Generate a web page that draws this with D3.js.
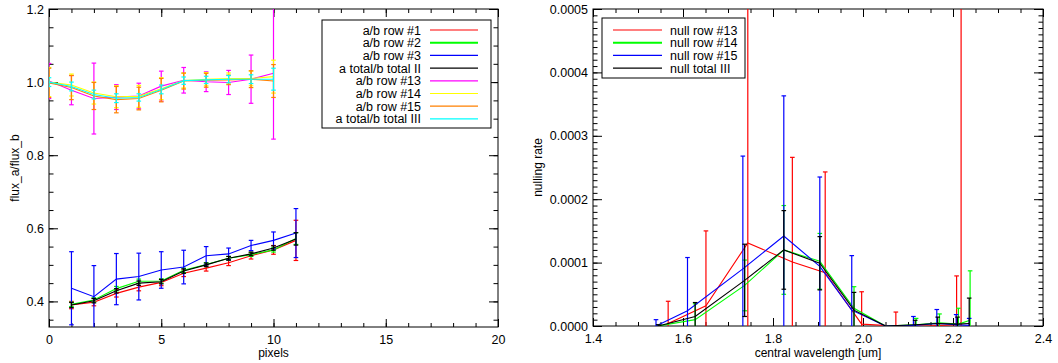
<!DOCTYPE html>
<html><head><meta charset="utf-8">
<script src="https://cdn.jsdelivr.net/npm/d3@7"></script>
<style>
body{margin:0;background:#fff}
svg{display:block}
text{font-family:"Liberation Sans",Arial,Helvetica,sans-serif;fill:#000}
</style>
</head><body>
<svg id="chart" width="1058" height="363"></svg>
<script>
// ---------------- LEFT PANEL DATA ----------------
const pixelsA = [1,2,3,4,5,6,7,8,9,10,11];        // rows 1,2,3 and total II
const pixelsB = [0,1,2,3,4,5,6,7,8,9,10];         // rows 13,14,15 and total III
const row1     = [0.390,0.398,0.422,0.439,0.452,0.477,0.491,0.506,0.525,0.541,0.567];
const row1Err  = [0.010,0.010,0.010,0.010,0.009,0.009,0.008,0.008,0.009,0.012,0.055];
const row2     = [0.392,0.404,0.435,0.455,0.456,0.485,0.501,0.518,0.528,0.541,0.572];
const row2Err  = [0.006,0.006,0.006,0.006,0.006,0.006,0.005,0.005,0.005,0.006,0.016];
const row3     = [0.436,0.413,0.461,0.468,0.486,0.494,0.525,0.530,0.553,0.567,0.587];
const row3Err  = [0.100,0.085,0.070,0.064,0.050,0.046,0.025,0.016,0.014,0.023,0.067];
const totII    = [0.390,0.402,0.429,0.450,0.454,0.483,0.500,0.518,0.530,0.546,0.571];
const totIIErr = [0.007,0.006,0.006,0.006,0.006,0.006,0.005,0.005,0.005,0.006,0.017];
const row13     = [1.003,0.978,0.955,0.959,0.962,0.989,1.005,1.001,0.999,1.008,1.024];
const row13Err  = [0.048,0.040,0.097,0.034,0.035,0.041,0.035,0.027,0.033,0.066,0.180];
const row14     = [1.000,0.992,0.970,0.960,0.961,0.982,1.004,1.008,1.010,1.010,1.015];
const row14Err  = [0.040,0.030,0.030,0.030,0.030,0.030,0.020,0.018,0.015,0.020,0.045];
const row15     = [0.998,0.985,0.962,0.952,0.955,0.978,1.003,1.005,1.006,1.008,1.003];
const row15Err  = [0.040,0.033,0.037,0.036,0.031,0.032,0.022,0.019,0.013,0.023,0.045];
const totIII    = [1.000,0.988,0.966,0.956,0.958,0.980,1.004,1.006,1.008,1.008,1.008];
const totIIIErr = [0.012,0.012,0.012,0.012,0.010,0.012,0.010,0.010,0.010,0.012,0.030];
const leftLabels = ["a/b row #1","a/b row #2","a/b row #3","a total/b total II",
                    "a/b row #13","a/b row #14","a/b row #15","a total/b total III"];
const leftXTicks = [0,5,10,15,20];
const leftYTicks = [0.4,0.6,0.8,1.0,1.2];

// ---------------- RIGHT PANEL DATA (units of 1e-4) ----------------
const NULL_UNIT = 1e-4;
const wl13      = [1.567,1.651,1.744,1.843,1.916,1.997,2.073,2.140,2.208,2.218];
const null13    = [0.04,0.32,1.31,1.01,0.84,0.03,0.00,0.00,0.02,0.05];
const null13Err = [0.35,1.18,6.00,1.65,1.59,0.51,0.22,0.00,0.77,6.00];
const wl14      = [1.545,1.627,1.737,1.824,1.904,1.980,2.050,2.118,2.170,2.212,2.238];
const null14    = [0.00,0.10,0.64,1.20,1.02,0.28,0.00,0.02,0.05,0.03,0.09];
const null14Err = [0.02,0.25,0.40,0.70,0.44,0.34,0.00,0.10,0.14,0.25,0.78];
const wl15      = [1.540,1.610,1.733,1.824,1.904,1.975,2.050,2.112,2.164,2.207,2.236];
const null15    = [0.00,0.24,0.90,1.42,0.94,0.25,0.00,0.01,0.04,0.02,0.01];
const null15Err = [0.10,0.84,1.78,2.21,1.41,0.86,0.00,0.14,0.22,0.16,0.11];
const wlTot      = [1.545,1.627,1.737,1.824,1.904,1.980,2.050,2.116,2.166,2.210,2.236];
const nullTot    = [0.00,0.15,0.72,1.20,0.99,0.25,0.00,0.02,0.04,0.03,0.04];
const nullTotErr = [0.02,0.22,0.57,0.62,0.42,0.28,0.00,0.07,0.10,0.11,0.40];
const rightLabels = ["null row #13","null row #14","null row #15","null total III"];
const rightXTicks = [1.4,1.6,1.8,2.0,2.2,2.4];
const rightYTicks = [0,0.0001,0.0002,0.0003,0.0004,0.0005];

// ---------------- STYLE ----------------
const leftColors  = ["#ff0000","#00ff00","#0000ff","#000000","#ff00ff","#ffff00","#ff8000","#00ffff"];
const rightColors = ["#ff0000","#00ff00","#0000ff","#000000"];

const svg = d3.select("#chart");
const LP = {x0:49, x1:498, y0:9, y1:327};
const RP = {x0:593, x1:1043, y0:9, y1:326};

const xL = d3.scaleLinear().domain([0,20]).range([LP.x0,LP.x1]);
const yL = d3.scaleLinear().domain([0.33,1.2]).range([LP.y1,LP.y0]);
const xR = d3.scaleLinear().domain([1.4,2.4]).range([RP.x0,RP.x1]);
const yR = d3.scaleLinear().domain([0,0.0005]).range([RP.y1,RP.y0]);

function range(a,b,s){const o=[];for(let v=a;v<=b+s*1e-6;v+=s)o.push(+v.toFixed(8));return o;}

function axes(P, xs, ys, xMaj, xMin, yMaj, yMin, xFmt, yFmt){
  const g = svg.append("g");
  const add = (ax, tr) => {
    const a = g.append("g").attr("transform",tr).call(ax);
    a.select(".domain").remove();
    a.selectAll("line").attr("stroke","#000").attr("stroke-width",1);
    a.selectAll("text").style("font-size","12.5px").attr("fill","#000");
    return a;
  };
  // bottom
  add(d3.axisBottom(xs).tickValues(xMaj).tickSize(-8).tickPadding(8).tickFormat(xFmt), `translate(0,${P.y1})`);
  add(d3.axisBottom(xs).tickValues(xMin).tickSize(-4).tickFormat(""), `translate(0,${P.y1})`);
  // top
  add(d3.axisTop(xs).tickValues(xMaj).tickSize(-8).tickFormat(""), `translate(0,${P.y0})`);
  add(d3.axisTop(xs).tickValues(xMin).tickSize(-4).tickFormat(""), `translate(0,${P.y0})`);
  // left
  add(d3.axisLeft(ys).tickValues(yMaj).tickSize(-9).tickPadding(5).tickFormat(yFmt), `translate(${P.x0},0)`);
  add(d3.axisLeft(ys).tickValues(yMin).tickSize(-4.5).tickFormat(""), `translate(${P.x0},0)`);
  // right
  add(d3.axisRight(ys).tickValues(yMaj).tickSize(-9).tickFormat(""), `translate(${P.x1},0)`);
  add(d3.axisRight(ys).tickValues(yMin).tickSize(-4.5).tickFormat(""), `translate(${P.x1},0)`);
  g.append("rect").attr("x",P.x0).attr("y",P.y0).attr("width",P.x1-P.x0).attr("height",P.y1-P.y0)
    .attr("fill","none").attr("stroke","#000").attr("stroke-width",1);
}

function clip(id,P){
  svg.append("clipPath").attr("id",id).append("rect")
    .attr("x",P.x0).attr("y",P.y0).attr("width",P.x1-P.x0).attr("height",P.y1-P.y0);
}
clip("clipL",LP); clip("clipR",RP);

function series(clipId, xs, ys, xv, yv, ev, color, unit){
  const d = xv.map((x,i)=>({x:x, y:yv[i]*unit, e:ev[i]*unit}));
  const g = svg.append("g").attr("clip-path",`url(#${clipId})`);
  g.append("path").datum(d)
    .attr("d", d3.line().x(p=>xs(p.x)).y(p=>ys(p.y)))
    .attr("fill","none").attr("stroke",color).attr("stroke-width",1.1);
  const eb = g.selectAll(null).data(d.filter(p=>p.e>0)).enter().append("g");
  eb.append("line").attr("x1",p=>xs(p.x)).attr("x2",p=>xs(p.x))
    .attr("y1",p=>ys(p.y-p.e)).attr("y2",p=>ys(p.y+p.e))
    .attr("stroke",color).attr("stroke-width",1.2);
  [-1,1].forEach(s=>{
    eb.append("line").attr("x1",p=>xs(p.x)-2.3).attr("x2",p=>xs(p.x)+2.3)
      .attr("y1",p=>ys(p.y+s*p.e)).attr("y2",p=>ys(p.y+s*p.e))
      .attr("stroke",color).attr("stroke-width",1.2);
  });
}

// ---------------- LEFT PANEL ----------------
axes(LP, xL, yL, leftXTicks, range(0,20,1), leftYTicks, range(0.35,1.2,0.05),
     d3.format("d"), d3.format(".1f"));
const leftSeries = [
  [pixelsA,row1,row1Err],[pixelsA,row2,row2Err],[pixelsA,row3,row3Err],[pixelsA,totII,totIIErr],
  [pixelsB,row13,row13Err],[pixelsB,row14,row14Err],[pixelsB,row15,row15Err],[pixelsB,totIII,totIIIErr]];
leftSeries.forEach((s,i)=>series("clipL", xL, yL, s[0], s[1], s[2], leftColors[i], 1));

svg.append("text").attr("x",(LP.x0+LP.x1)/2).attr("y",357).attr("text-anchor","middle")
  .style("font-size","12px").text("pixels");
svg.append("text").attr("transform",`translate(19,${(LP.y0+LP.y1)/2}) rotate(-90)`)
  .attr("text-anchor","middle").style("font-size","12px").text("flux_a/flux_b");

// left legend
const lg = svg.append("g");
lg.append("rect").attr("x",322).attr("y",20).attr("width",169).attr("height",108)
  .attr("fill","#fff").attr("stroke","#000");
leftLabels.forEach((t,i)=>{
  const y = 30 + i*12.7;
  lg.append("text").attr("x",421).attr("y",y+4.5).attr("text-anchor","end")
    .style("font-size","12.5px").text(t);
  lg.append("line").attr("x1",430).attr("x2",478).attr("y1",y).attr("y2",y)
    .attr("stroke",leftColors[i]).attr("stroke-width",i===1?2:1.2);
});

// ---------------- RIGHT PANEL ----------------
axes(RP, xR, yR, rightXTicks, range(1.4,2.4,0.05), rightYTicks, range(0,0.0005,0.00001),
     d3.format(".1f"), d3.format(".4f"));
const rightSeries = [[wl13,null13,null13Err],[wl14,null14,null14Err],[wl15,null15,null15Err],[wlTot,nullTot,nullTotErr]];
rightSeries.forEach((s,i)=>series("clipR", xR, yR, s[0], s[1], s[2], rightColors[i], NULL_UNIT));

svg.append("text").attr("x",(RP.x0+RP.x1)/2).attr("y",357).attr("text-anchor","middle")
  .style("font-size","12px").text("central wavelength [um]");
svg.append("text").attr("transform",`translate(542,${(RP.y0+RP.y1)/2}) rotate(-90)`)
  .attr("text-anchor","middle").style("font-size","12px").text("nulling rate");

const rg = svg.append("g");
rg.append("rect").attr("x",602).attr("y",18).attr("width",143).attr("height",60)
  .attr("fill","#fff").attr("stroke","#000");
rightLabels.forEach((t,i)=>{
  const y = 30 + i*12.7;
  rg.append("text").attr("x",670).attr("y",y+4.5).attr("text-anchor","start")
    .style("font-size","12.5px").text(t);
  rg.append("line").attr("x1",613).attr("x2",662).attr("y1",y).attr("y2",y)
    .attr("stroke",rightColors[i]).attr("stroke-width",i===1?2:1.2);
});
</script>
</body></html>
